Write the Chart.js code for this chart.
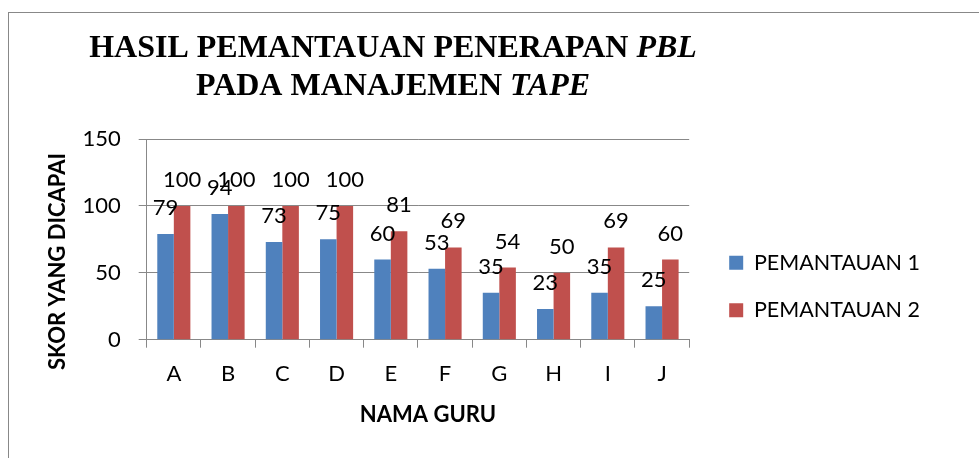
<!DOCTYPE html>
<html>
<head>
<meta charset="utf-8">
<script src="https://cdn.jsdelivr.net/npm/chart.js@4.4.1/dist/chart.umd.min.js"></script>
<style>
  html, body { margin: 0; padding: 0; background: #fff; }
  #wrap { position: relative; width: 979px; height: 458px; overflow: hidden; }
  #frame { position: absolute; left: 8px; top: 12px; width: 1000px; height: 500px; border: 1.5px solid #888; }
  canvas { position: absolute; left: 0; top: 0; }
</style>
</head>
<body>
<div id="wrap">
  <div id="frame"></div>
  <canvas id="chart" width="979" height="458"></canvas>
</div>
<script>
// data
const categories = ['A', 'B', 'C', 'D', 'E', 'F', 'G', 'H', 'I', 'J'];
const pemantauan1 = [79, 94, 73, 75, 60, 53, 35, 23, 35, 25];
const pemantauan2 = [100, 100, 100, 100, 81, 69, 54, 50, 69, 60];
const seriesNames = ['PEMANTAUAN 1', 'PEMANTAUAN 2'];
const yTicks = [0, 50, 100, 150];
const titleLines = [
    [['HASIL PEMANTAUAN PENERAPAN ', false], ['PBL', true]],
    [['PADA MANAJEMEN ', false], ['TAPE', true]]
];
const xTitle = 'NAMA GURU';
const yTitle = 'SKOR YANG DICAPAI';

const FONT = 'Lato';

// Title with italic words (Chart.js title only takes one font)
const mixedTitle = {
    id: 'mixedTitle',
    afterDraw(chart) {
        const ctx = chart.ctx;
        const baselines = [57, 95];
        ctx.save();
        ctx.fillStyle = '#000';
        ctx.textBaseline = 'alphabetic';
        ctx.textAlign = 'left';
        titleLines.forEach((line, i) => {
            const fonts = line.map(([, italic]) => (italic ? 'italic ' : '') + 'bold 32px "Liberation Serif"');
            let total = 0;
            line.forEach(([t], j) => { ctx.font = fonts[j]; total += ctx.measureText(t).width; });
            let x = 393 - total / 2;
            line.forEach(([t], j) => {
                ctx.font = fonts[j];
                ctx.fillText(t, x, baselines[i]);
                x += ctx.measureText(t).width;
            });
        });
        ctx.restore();
    }
};

// Axis titles, placed where the reference has them
const axisTitles = {
    id: 'axisTitles',
    afterDraw(chart) {
        const ctx = chart.ctx;
        ctx.save();
        ctx.fillStyle = '#000';
        ctx.font = 'bold 22px ' + FONT;
        ctx.textAlign = 'center';
        ctx.textBaseline = 'middle';
        ctx.fillText(xTitle, 428, 415);
        ctx.translate(58, 261.5);
        ctx.rotate(-Math.PI / 2);
        ctx.fillText(yTitle, 0, 0);
        ctx.restore();
    }
};

// Value labels above each bar
const valueLabels = {
    id: 'valueLabels',
    afterDatasetsDraw(chart) {
        const ctx = chart.ctx;
        ctx.save();
        ctx.font = '22px ' + FONT;
        ctx.fillStyle = '#000';
        ctx.textAlign = 'center';
        ctx.textBaseline = 'middle';
        chart.data.datasets.forEach((ds, i) => {
            chart.getDatasetMeta(i).data.forEach((bar, j) => {
                ctx.fillText(ds.data[j], bar.x, bar.y - 26);
            });
        });
        ctx.restore();
    }
};

// push the legend a bit away from the plot
const legendNudge = {
    id: 'legendNudge',
    afterLayout(chart) {
        const lg = chart.legend;
        lg.left += 14;
        lg.right += 14;
        lg.top -= 12;
        lg.bottom -= 12;
    }
};

new Chart(document.getElementById('chart'), {
    type: 'bar',
    data: {
        labels: categories,
        datasets: [{
            label: seriesNames[0],
            data: pemantauan1,
            backgroundColor: '#4F81BD',
            categoryPercentage: 0.61,
            barPercentage: 1
        }, {
            label: seriesNames[1],
            data: pemantauan2,
            backgroundColor: '#C0504D',
            categoryPercentage: 0.61,
            barPercentage: 1
        }]
    },
    options: {
        responsive: false,
        animation: false,
        devicePixelRatio: 1,
        layout: { padding: { left: 0, top: 139, right: 63, bottom: 0 } },
        plugins: {
            legend: {
                position: 'right',
                labels: {
                    color: '#000',
                    font: { family: FONT, size: 21.5 },
                    boxWidth: 14,
                    boxHeight: 14,
                    padding: 26
                }
            },
            tooltip: { enabled: false }
        },
        scales: {
            x: {
                grid: { drawOnChartArea: false, tickLength: 8, color: '#888', offset: true },
                border: { color: '#888' },
                ticks: { color: '#000', font: { family: FONT, size: 22 }, padding: 13 },
                afterFit: s => { s.height = 118.3; }
            },
            y: {
                min: yTicks[0],
                max: yTicks[yTicks.length - 1],
                grid: { color: '#888', tickLength: 8 },
                border: { color: '#888' },
                ticks: { stepSize: yTicks[1] - yTicks[0], color: '#000', font: { family: FONT, size: 22 }, padding: 18 },
                afterFit: s => { s.width = 146.7; }
            }
        }
    },
    plugins: [mixedTitle, axisTitles, valueLabels, legendNudge]
});
</script>
</body>
</html>
